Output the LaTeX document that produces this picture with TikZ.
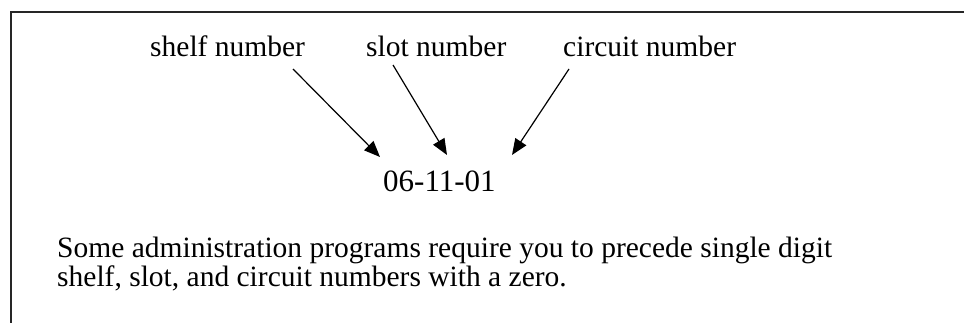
\documentclass[tikz,border=0pt]{standalone}
\usepackage{fontspec}
\setmainfont{Liberation Serif}
\usetikzlibrary{arrows.meta, calc}

\begin{document}
\begin{tikzpicture}[
    x=1pt, y=-1pt,
    txt/.style={inner sep=0pt, anchor=base west, font=\fontsize{29.5}{29}\selectfont},
    pointer/.style={-{Triangle[length=16pt, width=13pt]}, line width=1.2pt},
]
\useasboundingbox (0,0) rectangle (964,323);

% Frame
\draw [line width=2pt, black!85] (11,323) -- (11,12) -- (964,12);

% Labels
\node (shelf) [txt] at (150,57) {shelf number};
\node (slot) [txt] at (366,57) {slot number};
\node (circuit) [txt] at (563,57) {circuit number};

% Number
\node (code) [txt, font=\fontsize{31}{31}\selectfont] at (383,192) {06-11-01};

% Note (base is the last line)
\node (note) [txt, align=left] at (57,287) {Some administration programs require you to precede single digit\\shelf, slot, and circuit numbers with a zero.};

% Arrow ends
\coordinate (shelf-tail) at (293,69);
\coordinate (shelf-tip) at (380,157);
\coordinate (slot-tail) at (393,65);
\coordinate (slot-tip) at (447,155);
\coordinate (circuit-tail) at (569,69);
\coordinate (circuit-tip) at (512,155);

% Arrows
\draw [pointer] (shelf-tail) -- (shelf-tip);
\draw [pointer] (slot-tail) -- (slot-tip);
\draw [pointer] (circuit-tail) -- (circuit-tip);

\end{tikzpicture}
\end{document}
